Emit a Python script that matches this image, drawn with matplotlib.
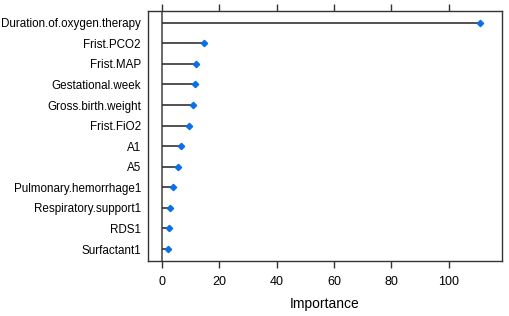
import numpy as np
import matplotlib
matplotlib.use('Agg')
import matplotlib.pyplot as plt

plt.rcParams['font.family'] = ['Liberation Sans', 'DejaVu Sans']

features = ['Duration.of.oxygen.therapy', 'Frist.PCO2', 'Frist.MAP',
            'Gestational.week', 'Gross.birth.weight', 'Frist.FiO2',
            'A1', 'A5', 'Pulmonary.hemorrhage1', 'Respiratory.support1',
            'RDS1', 'Surfactant1']
importance = [111.0, 14.5, 11.8, 11.5, 10.8, 9.6, 6.7, 5.6, 3.9, 2.9, 2.5, 2.2]
xticks = [0, 20, 40, 60, 80, 100]

fig = plt.figure(figsize=(5.1, 3.16), dpi=100)
ax = fig.add_axes([0.290, 0.174, 0.694, 0.792])

n = len(features)
ypos = np.arange(n, 0, -1)
ax.axvline(0, color='#404040', lw=1.1, zorder=1)
ax.hlines(ypos, 0, importance, color='#333333', lw=1.2, zorder=2)
ax.plot(importance, ypos, 'D', color='#0a6fe8', ms=3.2, mec='#0a6fe8', zorder=3)

ax.set_xlim(-4.9, 118.5)
ax.set_ylim(0.42, n + 0.58)
ax.set_yticks(ypos)
ax.set_yticklabels(features, fontsize=8.4)
ax.set_xticks(xticks)
ax.set_xticklabels([str(t) for t in xticks], fontsize=9)
ax.tick_params(axis='y', length=0, pad=5)
ax.tick_params(axis='x', top=True, bottom=True, direction='out', length=5,
               width=1, color='#333333', pad=6)
for s in ax.spines.values():
    s.set_color('#333333')
    s.set_linewidth(1.0)
ax.set_xlabel('Importance', fontsize=10, labelpad=6)

fig.savefig('out.png', dpi=100)
